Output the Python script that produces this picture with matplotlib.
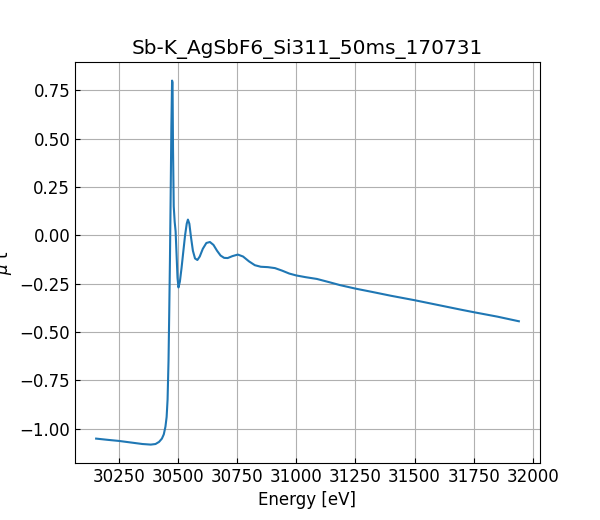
import numpy as np
import matplotlib
matplotlib.use("Agg")
import matplotlib.pyplot as plt

# ── data ──
energy = [
    30154, 30200, 30250, 30300, 30350, 30385, 30405, 30420, 30432, 30440,
    30447, 30452, 30456, 30460, 30463, 30466, 30469, 30472, 30475, 30477,
    30479, 30482, 30486, 30490, 30494, 30498, 30502, 30508, 30515, 30522,
    30530, 30537, 30542, 30548, 30555, 30563, 30572, 30582, 30592, 30605,
    30620, 30635, 30650, 30665, 30680, 30695, 30710, 30730, 30753, 30775,
    30800, 30825, 30850, 30880, 30910, 30940, 30970, 31000, 31040, 31087,
    31140, 31185, 31250, 31320, 31400, 31500, 31600, 31700, 31750, 31850,
    31941,
]
mu_t = [
    -1.052, -1.058, -1.064, -1.072, -1.080, -1.083, -1.080, -1.069, -1.052, -1.030,
    -0.990, -0.940, -0.850, -0.650, -0.400, -0.130, 0.200, 0.560, 0.800, 0.790,
    0.450, 0.150, 0.070, 0.020, -0.100, -0.220, -0.270, -0.240, -0.170, -0.090,
    0.000, 0.060, 0.081, 0.060, -0.010, -0.080, -0.120, -0.128, -0.110, -0.070,
    -0.040, -0.035, -0.050, -0.080, -0.105, -0.117, -0.118, -0.108, -0.100, -0.110,
    -0.135, -0.155, -0.163, -0.165, -0.170, -0.183, -0.198, -0.208, -0.217, -0.226,
    -0.243, -0.258, -0.276, -0.293, -0.313, -0.336, -0.361, -0.386, -0.398, -0.421,
    -0.445,
]
title = "Sb-K_AgSbF6_Si311_50ms_170731"

plt.rcParams["font.size"] = 12

fig, ax = plt.subplots(figsize=(6, 5.2), dpi=100)
ax.plot(np.array(energy), np.array(mu_t))
ax.set_title(title)
ax.set_xlabel("Energy [eV]")
ax.set_ylabel(r"$\mu$ t")
ax.tick_params(direction="in")
ax.grid(True)

fig.savefig("out.png", dpi=100)
